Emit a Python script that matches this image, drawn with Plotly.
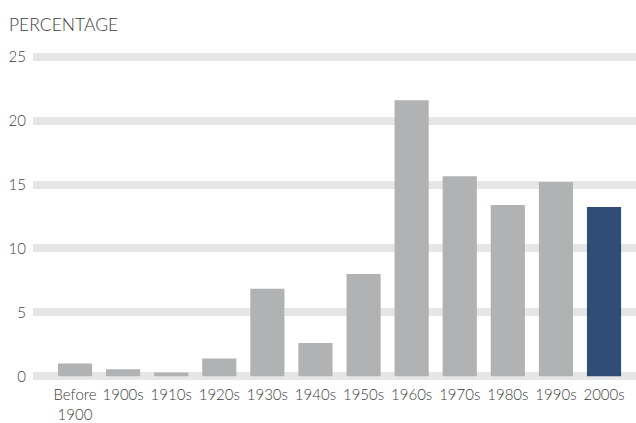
import plotly.graph_objects as go

categories = ["Before<br>1900", "1900s", "1910s", "1920s", "1930s", "1940s",
              "1950s", "1960s", "1970s", "1980s", "1990s", "2000s"]
values = [1.0, 0.55, 0.3, 1.4, 6.85, 2.6, 8.0, 21.6, 15.65, 13.4, 15.2, 13.25]
highlight = "2000s"
y_ticks = [0, 5, 10, 15, 20, 25]

grey = "#b1b2b4"
blue = "#2f4d77"
colors = [blue if c == highlight else grey for c in categories]

fig = go.Figure(go.Bar(x=list(range(len(categories))), y=values,
                       marker=dict(color=colors, line=dict(width=0)),
                       width=0.71))

font_family = "Lato, 'Open Sans', sans-serif"
text_color = "#3d3d3d"
fig.update_layout(
    width=636, height=423,
    margin=dict(l=33, r=0, t=49, b=37),
    paper_bgcolor="white", plot_bgcolor="white",
    showlegend=False,
    font=dict(family=font_family, size=15, color=text_color, weight=300),
    xaxis=dict(range=[-0.873, 11.665], tickmode="array",
               tickvals=list(range(len(categories))), ticktext=categories,
               showgrid=False, zeroline=False, showline=False, ticks="",
               tickfont=dict(size=15, color=text_color, weight=300)),
    yaxis=dict(range=[-0.6, 25.6], tickmode="array", tickvals=y_ticks,
               showgrid=True, gridcolor="#e6e6e6", gridwidth=8,
               zeroline=False, showline=False, ticks="", ticklabelstandoff=6,
               tickfont=dict(size=15, color=text_color, weight=300)),
    annotations=[dict(text="PERCENTAGE", xref="paper", yref="paper",
                      x=-26/603, y=1 + 25/337, xanchor="left", yanchor="middle",
                      showarrow=False,
                      font=dict(size=17.5, color=text_color, weight=300))],
)
fig.write_html("out.html")
